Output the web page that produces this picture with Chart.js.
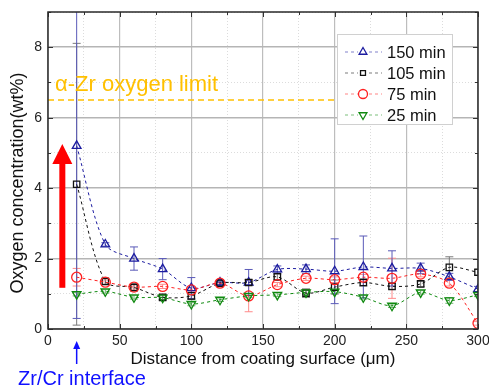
<!DOCTYPE html>
<html>
<head>
<meta charset="utf-8">
<script src="https://cdn.jsdelivr.net/npm/chart.js@4/dist/chart.umd.min.js"></script>
<style>
html,body{margin:0;padding:0;background:#fff;}
#wrap{width:489px;height:387px;position:relative;}
</style>
</head>
<body>
<div id="wrap"><canvas id="c" width="489" height="387"></canvas></div>
<script>
// ---- data ----
const distances = [20, 40, 60, 80, 100, 120, 140, 160, 180, 200, 220, 240, 260, 280, 300];
const min150 = [5.2, 2.4, 2.0, 1.7, 1.16, 1.32, 1.32, 1.69, 1.7, 1.64, 1.76, 1.72, 1.72, 1.48, 1.13];
const err150 = [4.9, 0.05, 0.33, 0.3, 0.3, 0.08, 0.37, 0.1, 0.12, 0.92, 0.88, 0.5, 0.15, 0.1, 0.08];
const min105 = [4.11, 1.35, 1.18, 0.9, 0.94, 1.3, 1.32, 1.48, 1.02, 1.19, 1.32, 1.21, 1.28, 1.75, 1.61];
const err105 = [4.0, 0.08, 0.1, 0.08, 0.1, 0.06, 0.08, 0.08, 0.12, 0.2, 0.1, 0.08, 0.08, 0.3, 0.08];
const min75  = [1.47, 1.33, 1.19, 1.21, 1.11, 1.3, 0.94, 1.26, 1.44, 1.4, 1.47, 1.44, 1.56, 1.3, 0.16];
const err75  = [0.25, 0.06, 0.06, 0.06, 0.06, 0.1, 0.45, 0.06, 0.06, 0.08, 0.08, 0.57, 0.08, 0.08, 0.05];
const min25  = [0.99, 1.07, 0.9, 0.89, 0.71, 0.83, 0.94, 0.97, 1.04, 1.06, 0.9, 0.66, 1.04, 0.81, 0.97];
const err25  = [0.05, 0.05, 0.05, 0.05, 0.05, 0.05, 0.05, 0.05, 0.05, 0.05, 0.05, 0.05, 0.05, 0.08, 0.05];
const seriesNames = ['150 min', '105 min', '75 min', '25 min'];
const limitValue = 6.5;
const limitX = [0, 202];
const limitLabel = 'α-Zr oxygen limit';
const arrowX = 10, arrowFrom = 1.17, arrowTo = 5.25;
const interfaceX = 20;
const interfaceLabel = 'Zr/Cr interface';
const xTitle = 'Distance from coating surface (μm)';
const yTitle = 'Oxygen concentration(wt%)';

const FONT = '"Liberation Sans", Arial, sans-serif';
const colors = ['#1c1ca0', '#111111', '#ff2020', '#108a10'];
const errColors = ['#5a5ab8', '#7a7a7a', '#ff8a8a', '#70b070'];
const styles = ['triangle', 'rect', 'circle', 'triangle'];
const rotations = [0, 0, 0, 180];
const values = [min150, min105, min75, min25];
const errors = [err150, err105, err75, err25];

const toPts = arr => distances.map((d, i) => ({x: d, y: arr[i]}));

const datasets = values.map((arr, k) => ({
  label: seriesNames[k],
  data: toPts(arr),
  borderColor: colors[k],
  backgroundColor: 'rgba(0,0,0,0)',
  pointBorderColor: colors[k],
  pointBackgroundColor: 'rgba(255,255,255,0)',
  pointStyle: styles[k],
  pointRotation: rotations[k],
  pointRadius: k === 1 ? 4.5 : 5,
  pointBorderWidth: 1.3,
  borderWidth: 1,
  borderDash: [3, 3],
  tension: 0.3,
  order: 4 - k
}));
datasets.push({
  label: 'limit',
  data: limitX.map(x => ({x: x, y: limitValue})),
  borderColor: '#ffc000',
  borderWidth: 1.6,
  borderDash: [6, 4],
  pointRadius: 0,
  order: 10
});

const errPlugin = {
  id: 'errbars',
  beforeDatasetsDraw(chart) {
    const {ctx, chartArea, scales} = chart;
    ctx.save();
    ctx.beginPath();
    ctx.rect(chartArea.left, chartArea.top, chartArea.right - chartArea.left, chartArea.bottom - chartArea.top);
    ctx.clip();
    for (let k = 3; k >= 0; k--) {
      ctx.strokeStyle = errColors[k];
      ctx.lineWidth = 1;
      distances.forEach((d, i) => {
        const px = scales.x.getPixelForValue(d);
        const y1 = scales.y.getPixelForValue(values[k][i] + errors[k][i]);
        const y2 = scales.y.getPixelForValue(values[k][i] - errors[k][i]);
        ctx.beginPath();
        ctx.moveTo(px, y1); ctx.lineTo(px, y2);
        ctx.moveTo(px - 4, y1); ctx.lineTo(px + 4, y1);
        ctx.moveTo(px - 4, y2); ctx.lineTo(px + 4, y2);
        ctx.stroke();
      });
    }
    ctx.restore();
  },
  afterDraw(chart) {
    const {ctx, chartArea, scales} = chart;
    const L = chartArea.left, R = chartArea.right, T = chartArea.top, B = chartArea.bottom;
    ctx.save();
    // inward ticks
    ctx.strokeStyle = '#333';
    ctx.lineWidth = 1;
    for (let v = 0; v <= 300; v += 25) {
      const px = Math.round(scales.x.getPixelForValue(v)) + 0.5;
      const len = v % 50 === 0 ? 5 : 3;
      ctx.beginPath();
      ctx.moveTo(px, B); ctx.lineTo(px, B - len);
      ctx.moveTo(px, T); ctx.lineTo(px, T + len);
      ctx.stroke();
    }
    for (let v = 0; v <= 9; v += 1) {
      const py = Math.round(scales.y.getPixelForValue(v)) + 0.5;
      const len = v % 2 === 0 ? 5 : 3;
      ctx.beginPath();
      ctx.moveTo(L, py); ctx.lineTo(L + len, py);
      ctx.moveTo(R, py); ctx.lineTo(R - len, py);
      ctx.stroke();
    }
    // frame
    ctx.strokeStyle = '#2a2a2a';
    ctx.lineWidth = 1.5;
    ctx.strokeRect(L, T, R - L, B - T);

    // y title
    ctx.save();
    ctx.translate(18, 183);
    ctx.rotate(-Math.PI / 2);
    ctx.fillStyle = '#111';
    ctx.font = '18px ' + FONT;
    ctx.textAlign = 'center';
    ctx.textBaseline = 'middle';
    ctx.fillText(yTitle, 0, 0);
    ctx.restore();

    // limit label
    ctx.fillStyle = '#ffc000';
    ctx.font = '22px ' + FONT;
    ctx.textBaseline = 'middle';
    ctx.textAlign = 'left';
    ctx.fillText(limitLabel, 55, scales.y.getPixelForValue(limitValue) - 15);

    // red arrow
    const ax = scales.x.getPixelForValue(arrowX);
    const ay0 = scales.y.getPixelForValue(arrowFrom);
    const ay1 = scales.y.getPixelForValue(arrowTo);
    ctx.fillStyle = '#ff0000';
    ctx.fillRect(ax - 3, ay1 + 18, 6, ay0 - ay1 - 18);
    ctx.beginPath();
    ctx.moveTo(ax, ay1);
    ctx.lineTo(ax - 10, ay1 + 20);
    ctx.lineTo(ax + 10, ay1 + 20);
    ctx.closePath();
    ctx.fill();

    // blue interface arrow
    const bx = scales.x.getPixelForValue(interfaceX);
    ctx.strokeStyle = '#1010ff';
    ctx.fillStyle = '#1010ff';
    ctx.lineWidth = 1.5;
    ctx.beginPath();
    ctx.moveTo(bx, B + 35); ctx.lineTo(bx, B + 18);
    ctx.stroke();
    ctx.beginPath();
    ctx.moveTo(bx, B + 12);
    ctx.lineTo(bx - 3.5, B + 20);
    ctx.lineTo(bx + 3.5, B + 20);
    ctx.closePath();
    ctx.fill();
    ctx.font = '20px ' + FONT;
    ctx.textAlign = 'left';
    ctx.fillText(interfaceLabel, 18, B + 50);

    // legend
    const lx = 337, ly = 34, lw = 115, lh = 90;
    ctx.fillStyle = '#ffffff';
    ctx.fillRect(lx, ly, lw, lh);
    ctx.strokeStyle = '#d0d0d0';
    ctx.lineWidth = 1;
    ctx.strokeRect(lx + 0.5, ly + 0.5, lw, lh);
    ctx.font = '16.5px ' + FONT;
    seriesNames.forEach((name, k) => {
      const yy = ly + 18 + k * 21;
      ctx.save();
      ctx.globalAlpha = 0.55;
      ctx.strokeStyle = colors[k];
      ctx.lineWidth = 1;
      ctx.setLineDash([3, 3]);
      ctx.beginPath();
      ctx.moveTo(lx + 8, yy); ctx.lineTo(lx + 45, yy);
      ctx.stroke();
      ctx.restore();
      ctx.save();
      ctx.fillStyle = '#fff';
      ctx.fillRect(lx + 21, yy - 5, 10, 10);
      ctx.strokeStyle = colors[k];
      ctx.lineWidth = 1.3;
      Chart.helpers.drawPoint(ctx, {
        pointStyle: styles[k], rotation: rotations[k], radius: k === 1 ? 3.5 : 4.5, borderWidth: 1.3
      }, lx + 26, yy);
      ctx.restore();
      ctx.fillStyle = '#111';
      ctx.textAlign = 'left';
      ctx.textBaseline = 'middle';
      ctx.fillText(name, lx + 50, yy + 1);
    });
    ctx.restore();
  }
};

new Chart(document.getElementById('c'), {
  type: 'line',
  data: { datasets: datasets },
  options: {
    responsive: false,
    animation: false,
    layout: { padding: { left: 0, top: 12, right: 11, bottom: 17 } },
    plugins: { legend: { display: false }, tooltip: { enabled: false } },
    scales: {
      x: {
        type: 'linear', min: 0, max: 300,
        afterFit: s => { s.height = 41; s.paddingRight = 0; s.paddingLeft = 0; },
        ticks: {
          stepSize: 25, autoSkip: false, maxRotation: 0, padding: 4,
          color: '#222', font: { family: FONT, size: 14 },
          callback: v => (v % 50 === 0 ? String(v) : '')
        },
        grid: {
          drawTicks: false,
          color: c => (c.tick && c.tick.value % 50 === 0 ? '#bdbdbd' : '#dcdcdc'),
          lineWidth: c => (c.tick && c.tick.value % 50 === 0 ? 1.2 : 1)
        },
        border: {
          display: false,
          dash: c => (c.tick && c.tick.value % 50 === 0 ? [] : [1, 2])
        },
        title: {
          display: true, text: xTitle, color: '#111',
          font: { family: FONT, size: 17 }, padding: { top: 0, bottom: 0 }
        }
      },
      y: {
        min: 0, max: 9,
        afterFit: s => { s.width = 48; s.paddingTop = 0; s.paddingBottom = 0; },
        ticks: {
          stepSize: 1, autoSkip: false, padding: 6,
          color: '#222', font: { family: FONT, size: 14 },
          callback: v => (v % 2 === 0 ? String(v) : '')
        },
        grid: {
          drawTicks: false,
          color: c => (c.tick && c.tick.value % 2 === 0 ? '#b5b5b5' : '#dcdcdc'),
          lineWidth: c => (c.tick && c.tick.value % 2 === 0 ? 1.6 : 1)
        },
        border: {
          display: false,
          dash: c => (c.tick && c.tick.value % 2 === 0 ? [] : [1, 2])
        },
        title: { display: false }
      }
    }
  },
  plugins: [errPlugin]
});
</script>
</body>
</html>
